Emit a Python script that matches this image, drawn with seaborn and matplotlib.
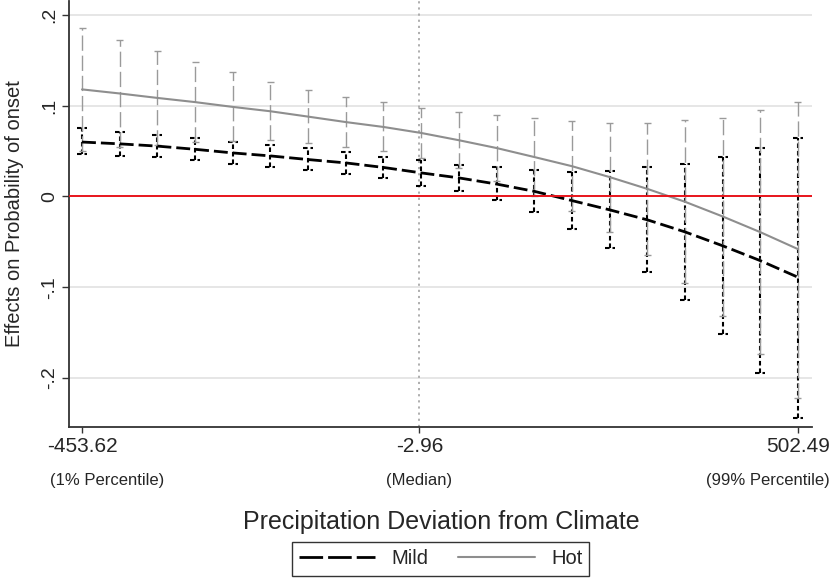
import numpy as np
import pandas as pd
import seaborn as sns
import matplotlib.pyplot as plt
from matplotlib.lines import Line2D
from matplotlib.transforms import blended_transform_factory

# precipitation deviation values where the effects are evaluated
precip = [-453.62, -403.30, -352.98, -302.66, -252.33, -202.01, -151.69, -101.37,
          -51.05, -0.73, 49.59, 99.91, 150.23, 200.55, 250.88, 301.20,
          351.52, 401.84, 452.16, 502.49]

mild_est = [0.060, 0.058, 0.0555, 0.052, 0.048, 0.0447, 0.0407, 0.037, 0.032, 0.026,
            0.0205, 0.0137, 0.0057, -0.0045, -0.0147, -0.0257, -0.039, -0.0543, -0.0707, -0.089]
mild_hi = [0.075, 0.071, 0.068, 0.064, 0.060, 0.057, 0.053, 0.049, 0.044, 0.040,
           0.035, 0.032, 0.029, 0.027, 0.028, 0.032, 0.036, 0.043, 0.053, 0.064]
mild_lo = [0.047, 0.045, 0.043, 0.040, 0.036, 0.032, 0.029, 0.025, 0.020, 0.012,
           0.006, -0.004, -0.017, -0.036, -0.057, -0.083, -0.114, -0.151, -0.194, -0.244]

hot_est = [0.118, 0.1135, 0.1086, 0.104, 0.0987, 0.0939, 0.088, 0.082, 0.0766, 0.070,
           0.062, 0.0534, 0.0435, 0.0334, 0.0214, 0.0084, -0.0058, -0.022, -0.0393, -0.058]
hot_hi = [0.186, 0.172, 0.160, 0.148, 0.137, 0.126, 0.117, 0.110, 0.104, 0.098,
          0.093, 0.090, 0.086, 0.083, 0.081, 0.081, 0.084, 0.087, 0.095, 0.104]
hot_lo = [0.050, 0.055, 0.057, 0.060, 0.061, 0.062, 0.059, 0.055, 0.050, 0.042,
          0.031, 0.017, 0.001, -0.016, -0.039, -0.064, -0.095, -0.132, -0.174, -0.222]

xticks = [-453.62, -2.96, 502.49]
xtick_labels = ['-453.62', '-2.96', '502.49']
xtick_notes = ['(1% Percentile)', '(Median)', '(99% Percentile)']
yticks = [0.2, 0.1, 0, -0.1, -0.2]
ytick_labels = ['.2', '.1', '0', '-.1', '-.2']

df = pd.DataFrame({'precip': precip * 2,
                   'effect': mild_est + hot_est,
                   'group': ['Mild'] * 20 + ['Hot'] * 20})

sns.set_theme(style='white')
plt.rcParams['font.family'] = ['Liberation Sans', 'DejaVu Sans']

fig = plt.figure(figsize=(8.31, 5.80), dpi=100)
ax = fig.add_axes([69 / 831, 1 - 427 / 580, (812 - 69) / 831, 426 / 580])

x = np.array(precip)
xpx = 956.11 / 716  # data units per pixel

# grid lines
for yv in [0.2, 0.1, -0.1, -0.2]:
    ax.axhline(yv, color='#e6e6e6', lw=1.4, zorder=0)

# median line
ax.axvline(-2.96, color='#a8a8a8', lw=1.3, ls=(0, (1.2, 2.2)), zorder=1)

# mild CI (black short dash with caps)
ax.vlines(x, mild_lo, mild_hi, color='black', lw=1.5, ls=(0, (2.2, 1.4)), zorder=2)
ax.hlines(mild_hi, x - 5 * xpx, x + 5 * xpx, color='black', lw=1.5, ls=(0, (2.2, 1.4)), zorder=2)
ax.hlines(mild_lo, x - 5 * xpx, x + 5 * xpx, color='black', lw=1.5, ls=(0, (2.2, 1.4)), zorder=2)

# hot CI (gray long dash with caps)
ax.vlines(x, hot_lo, hot_hi, color='#9a9a9a', lw=1.0, ls=(0, (11, 3.5)), zorder=3)
ax.hlines(hot_hi, x - 3.5 * xpx, x + 3.5 * xpx, color='#9a9a9a', lw=1.0, zorder=3)
ax.hlines(hot_lo, x - 3.5 * xpx, x + 3.5 * xpx, color='#9a9a9a', lw=1.0, zorder=3)

# point estimates
sns.lineplot(data=df[df.group == 'Mild'], x='precip', y='effect', color='black',
             lw=2.0, ax=ax, legend=False, zorder=4)
ax.lines[-1].set_dashes((5, 1.8))
sns.lineplot(data=df[df.group == 'Hot'], x='precip', y='effect', color='#8e8e8e',
             lw=1.5, ax=ax, legend=False, zorder=4)

ax.axhline(0, color='#e8141b', lw=1.4, zorder=5)

ax.set_xlim(-471.0, 521.2)
ax.set_ylim(-0.254, 0.2154)

ax.set_xticks(xticks)
ax.set_xticklabels(xtick_labels, fontsize=15)
ax.set_yticks(yticks)
ax.set_yticklabels(ytick_labels, fontsize=14, rotation=90, va='center')
ax.tick_params(axis='x', length=4.5, width=1, color='#333333', pad=3, direction='out', bottom=True)
ax.tick_params(axis='y', length=5, width=1, color='#333333', pad=3, direction='out', left=True)
ax.set_xlabel('')
ax.set_ylabel('')

for side in ['top', 'right']:
    ax.spines[side].set_visible(False)
for side in ['left', 'bottom']:
    ax.spines[side].set_color('#333333')
    ax.spines[side].set_linewidth(1.3)

# second line of the x tick labels
note_y = 1 - 480 / 580
fig.text(50 / 831, note_y, xtick_notes[0], ha='left', va='center', fontsize=12)
trans = blended_transform_factory(ax.transData, fig.transFigure)
ax.text(xticks[1], note_y, xtick_notes[1], transform=trans, ha='center', va='center', fontsize=12)
fig.text(830 / 831, note_y, xtick_notes[2], ha='right', va='center', fontsize=12)

fig.text(441 / 831, 1 - 522 / 580, 'Precipitation Deviation from Climate',
         ha='center', va='center', fontsize=18)
fig.text(15 / 831, 1 - 214 / 580, 'Effects on Probability of onset',
         ha='center', va='center', rotation=90, fontsize=14.5)

handles = [Line2D([], [], color='black', lw=2.0, dashes=(8.5, 1.8)),
           Line2D([], [], color='#8e8e8e', lw=1.5)]
leg = fig.legend(handles, ['Mild', 'Hot'], loc='center', bbox_to_anchor=(440.5 / 831, 1 - 559 / 580),
                 ncol=2, frameon=True, fancybox=False, edgecolor='black', fontsize=14.5,
                 handlelength=3.8, columnspacing=1.5, handletextpad=0.8, borderpad=0.35)
leg.get_frame().set_linewidth(1.0)

fig.savefig('out.png', dpi=100)
